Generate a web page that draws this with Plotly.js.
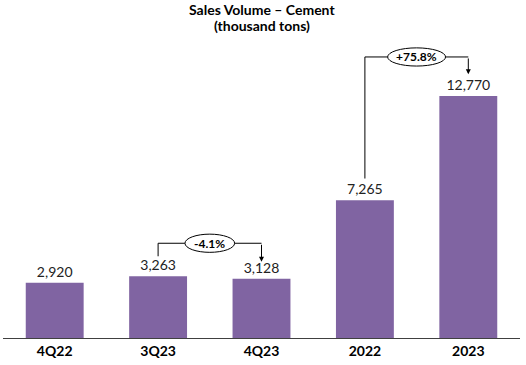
<!DOCTYPE html>
<html><head><meta charset="utf-8">
<script src="https://cdn.plot.ly/plotly-3.0.1.min.js"></script>
<style>html,body{margin:0;padding:0;background:#fff}#c{width:526px;height:365px}</style>
</head><body><div id="c"></div>
<script>
const categories = ['4Q22','3Q23','4Q23','2022','2023'];
const volumes = [2920, 3263, 3128, 7265, 12770];
const changeLabels = ['-4.1%', '+75.8%'];
const changePairs = [[1,2],[3,4]];
const bracketLevels = [5000, 14830];
const titleLines = ['Sales Volume – Cement', '(thousand tons)'];

const FONT = 'Lato, "Open Sans", sans-serif';
const purple = '#8064A2';

const trace = {
  type: 'bar', x: categories, y: volumes,
  marker: {color: purple}, width: 0.56,
  text: volumes.map(v => v.toLocaleString('en-US')),
  textposition: 'outside', cliponaxis: false,
  textfont: {family: FONT, size: 14, color: '#222'},
  hoverinfo: 'none'
};

const shapes = [];
const annotations = [];
changePairs.forEach((p, i) => {
  const [a, b] = p;
  const lvl = bracketLevels[i];
  const startY = volumes[a] + (i === 0 ? 1050 : 1150);
  const endY = volumes[b] + (i === 0 ? 900 : 1150);
  const line = {color: '#000', width: 1};
  shapes.push({type:'line', xref:'x', yref:'y', x0:a, x1:a, y0:startY, y1:lvl, line});
  shapes.push({type:'line', xref:'x', yref:'y', x0:a, x1:b, y0:lvl, y1:lvl, line});
  annotations.push({xref:'x', yref:'y', axref:'x', ayref:'y', x:b, y:endY, ax:b, ay:lvl,
    text:'', showarrow:true, arrowhead:2, arrowsize:1, arrowwidth:1, arrowcolor:'#000', standoff:0, startstandoff:0});
  const halfW = i === 0 ? 0.24 : 0.28;
  const halfH = 480;
  shapes.push({type:'circle', xref:'x', yref:'y', x0:(a+b)/2-halfW, x1:(a+b)/2+halfW,
    y0:lvl-halfH, y1:lvl+halfH, fillcolor:'#fff', line:{color:'#000', width:1}, layer:'above'});
  annotations.push({xref:'x', yref:'y', x:(a+b)/2, y:lvl, text:'<b>'+changeLabels[i]+'</b>',
    showarrow:false, font:{family:FONT, size:12, color:'#000'}});
});
annotations.push({xref:'paper', yref:'paper', x:0.5, y:1.104, yanchor:'middle', text:'<b>'+titleLines[0]+'</b>',
  showarrow:false, font:{family:FONT, size:14, color:'#000'}});
annotations.push({xref:'paper', yref:'paper', x:0.5, y:1.048, yanchor:'middle', text:'<b>'+titleLines[1]+'</b>',
  showarrow:false, font:{family:FONT, size:14, color:'#000'}});

const layout = {
  width: 526, height: 365,
  margin: {l: 3, r: 6, t: 40, b: 27},
  paper_bgcolor: '#fff', plot_bgcolor: '#fff',
  showlegend: false,
  xaxis: {type: 'category', showline: true, linecolor: '#404040', linewidth: 1,
    ticks: '', tickfont: {family: FONT, size: 14, color: '#000', weight: 'bold'},
    showgrid: false, zeroline: false, fixedrange: true},
  yaxis: {range: [0, 15725], visible: false, showgrid: false, zeroline: false, fixedrange: true},
  shapes, annotations
};

Plotly.newPlot('c', [trace], layout, {displayModeBar: false, staticPlot: true});
</script></body></html>
